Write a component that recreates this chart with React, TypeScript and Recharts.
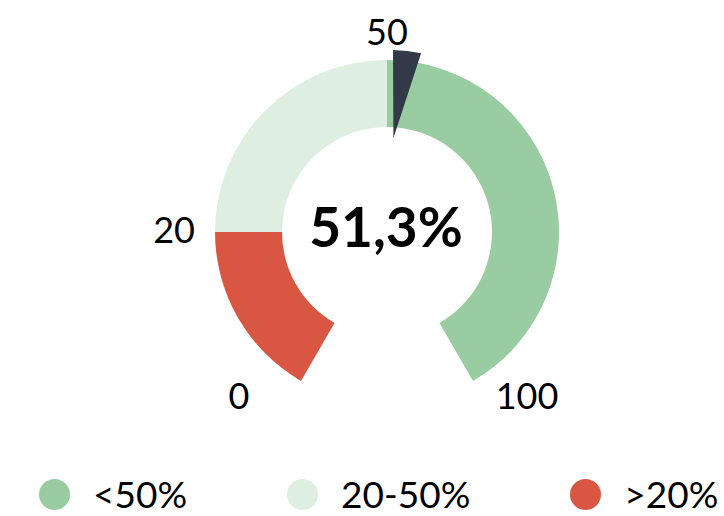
import React from 'react';
import { PieChart, Pie, Cell } from 'recharts';

// ---- data ----
const bandNames = ['>20%', '20-50%', '<50%'];
const bandValues = [20, 30, 50];
const bandColors = ['#d95742', '#deeee0', '#99cca0'];

const tickLabels = ['0', '20', '50', '100'];

const legendNames = ['<50%', '20-50%', '>20%'];
const legendColors = ['#99cca0', '#deeee0', '#d95742'];

const gaugeMax = 100;
const gaugeValue = 51.3;
const gaugeText = '51,3%';

const bandData = bandNames.map((name, i) => ({ name, value: bandValues[i] }));
const needleData = [
  { name: 'value', value: gaugeValue },
  { name: 'rest', value: gaugeMax - gaugeValue },
];

// ---- helpers ----
const RAD = Math.PI / 180;
const FONT = 'Lato, "Open Sans", sans-serif';
const polar = (cx: number, cy: number, r: number, a: number) => ({
  x: cx + r * Math.cos(-a * RAD),
  y: cy + r * Math.sin(-a * RAD),
});

function tickText(cx: number, cy: number, outerR: number, angle: number, text: string, key: string) {
  const c = Math.cos(angle * RAD);
  const s = Math.sin(angle * RAD);
  const p = polar(cx, cy, outerR + 16, angle);
  let x = p.x;
  let y = p.y;
  let anchor: 'middle' | 'start' | 'end' = 'middle';
  let baseline: any = 'central';
  if (s < -0.3) {
    x = p.x + 50 * Math.sign(c) - 4;
  } else if (Math.abs(c) < 0.3) {
    baseline = 'alphabetic';
    y = p.y + 1;
  } else {
    anchor = c < 0 ? 'end' : 'start';
    x = p.x + 4 * Math.sign(c);
    y = p.y - 3;
  }
  return (
    <text
      key={key}
      x={x}
      y={y}
      textAnchor={anchor}
      dominantBaseline={baseline}
      fill="#000"
      stroke="none"
      style={{ fontSize: 36, fontFamily: FONT }}
    >
      {text}
    </text>
  );
}

const renderBandLabel = (props: any) => {
  const { cx, cy, outerRadius, startAngle, endAngle, index } = props;
  return (
    <g>
      {tickText(cx, cy, outerRadius, startAngle, tickLabels[index], 's' + index)}
      {index === bandValues.length - 1
        ? tickText(cx, cy, outerRadius, endAngle, tickLabels[index + 1], 'e' + index)
        : null}
    </g>
  );
};

const renderNeedleLabel = (props: any) => {
  const { cx, cy, innerRadius, outerRadius, endAngle, index } = props;
  if (index === 0) {
    const t = endAngle;
    const tip = polar(cx, cy, innerRadius, t);
    const a = polar(cx, cy, outerRadius, t + 2.0);
    const b = polar(cx, cy, outerRadius, t - 6.9);
    const d = `M${tip.x},${tip.y} L${a.x},${a.y} A${outerRadius},${outerRadius} 0 0 1 ${b.x},${b.y} Z`;
    return <path d={d} fill="#323a48" stroke="none" />;
  }
  return (
    <text
      x={cx - 1}
      y={cy + 15}
      textAnchor="middle"
      fill="#000"
      stroke="none"
      style={{ fontSize: 55, fontWeight: 700, fontFamily: FONT }}
    >
      {gaugeText}
    </text>
  );
};

export default function App() {
  return (
    <div style={{ position: 'absolute', left: 0, top: 0, width: 724, height: 516, background: '#fff' }}>
      <PieChart width={724} height={516} margin={{ top: 0, right: 0, bottom: 0, left: 0 }}>
        <Pie
          data={bandData}
          dataKey="value"
          nameKey="name"
          cx={387}
          cy={232}
          innerRadius={105}
          outerRadius={172}
          startAngle={240}
          endAngle={-60}
          stroke="none"
          isAnimationActive={false}
          label={renderBandLabel}
          labelLine={false}
        >
          {bandData.map((d, i) => (
            <Cell key={d.name} fill={bandColors[i]} stroke="none" />
          ))}
        </Pie>
        <Pie
          data={needleData}
          dataKey="value"
          nameKey="name"
          cx={387}
          cy={232}
          innerRadius={94}
          outerRadius={182}
          startAngle={240}
          endAngle={-60}
          stroke="none"
          fill="none"
          isAnimationActive={false}
          label={renderNeedleLabel}
          labelLine={false}
        >
          {needleData.map((d) => (
            <Cell key={d.name} fill="none" stroke="none" />
          ))}
        </Pie>
      </PieChart>
      <div
        style={{
          position: 'absolute',
          left: 39,
          top: 472,
          display: 'flex',
          gap: 100,
          fontFamily: FONT,
          fontSize: 37,
          lineHeight: '44px',
          color: '#000',
          whiteSpace: 'nowrap',
        }}
      >
        {legendNames.map((name, i) => (
          <div key={name} style={{ display: 'flex', alignItems: 'center' }}>
            <div
              style={{
                width: 31,
                height: 31,
                borderRadius: '50%',
                background: legendColors[i],
                marginRight: 23,
              }}
            />
            <span>{name}</span>
          </div>
        ))}
      </div>
    </div>
  );
}
